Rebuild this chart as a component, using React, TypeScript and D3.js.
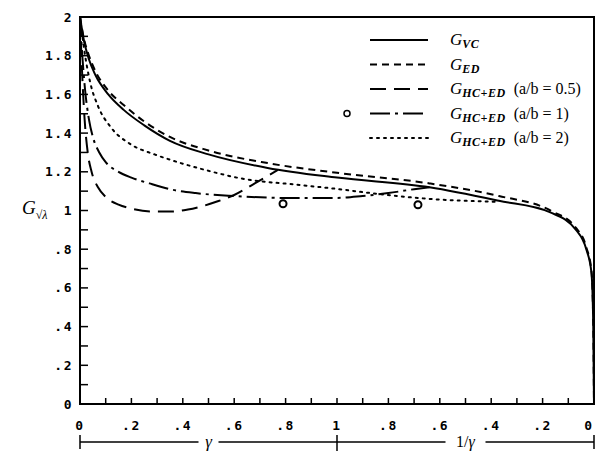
import * as d3 from 'd3';

// Abscissa runs 0..2: 0..1 is gamma, 1..2 is 1/gamma read backwards (2 - t)
const tVC = [0, 0.015, 0.035, 0.06, 0.11, 0.17, 0.25, 0.35, 0.5, 0.73, 1.0, 1.36, 1.63, 1.83, 1.93, 1.97, 1.99, 1.997, 2.0];
const gVC = [2.0, 1.88, 1.78, 1.70, 1.60, 1.52, 1.44, 1.36, 1.29, 1.22, 1.17, 1.12, 1.05, 0.99, 0.9, 0.8, 0.68, 0.42, 0];

const tED = [0, 0.015, 0.035, 0.06, 0.11, 0.17, 0.25, 0.35, 0.5, 0.73, 1.0, 1.36, 1.63, 1.83, 1.93, 1.97, 1.99, 1.997, 2.0];
const gED = [2.0, 1.89, 1.80, 1.72, 1.62, 1.545, 1.46, 1.38, 1.31, 1.245, 1.195, 1.14, 1.075, 1.0, 0.91, 0.81, 0.69, 0.43, 0];

const tHC05 = [0, 0.008, 0.018, 0.03, 0.045, 0.07, 0.1, 0.15, 0.2, 0.28, 0.36, 0.42, 0.47, 0.53, 0.6, 0.68, 0.77];
const gHC05 = [2.0, 1.72, 1.47, 1.3, 1.2, 1.12, 1.07, 1.03, 1.01, 0.995, 0.995, 1.005, 1.02, 1.045, 1.08, 1.14, 1.21];

const tHC1 = [0, 0.01, 0.02, 0.035, 0.05, 0.075, 0.1, 0.15, 0.2, 0.27, 0.35, 0.45, 0.6, 0.8, 1.0, 1.1, 1.2, 1.3, 1.36];
const gHC1 = [2.0, 1.78, 1.62, 1.47, 1.38, 1.3, 1.25, 1.2, 1.17, 1.14, 1.11, 1.09, 1.075, 1.065, 1.065, 1.075, 1.09, 1.11, 1.12];

const tHC2 = [0, 0.02, 0.04, 0.07, 0.12, 0.2, 0.29, 0.38, 0.5, 0.61, 0.87, 1.01, 1.1, 1.36, 1.62];
const gHC2 = [2.0, 1.8, 1.66, 1.54, 1.43, 1.34, 1.29, 1.25, 1.205, 1.17, 1.13, 1.11, 1.095, 1.06, 1.045];

// measured points (circles)
const tPts = [0.79, 1.315];
const gPts = [1.035, 1.03];

const legendSubs = ['VC', 'ED', 'HC+ED', 'HC+ED', 'HC+ED'];
const legendNotes = ['', '', '(a/b = 0.5)', '(a/b = 1)', '(a/b = 2)'];
const dashes = ['', '7,5', '16,8', '20,5,3,5', '2,5'];

const W = 596, H = 452;
const x = d3.scaleLinear().domain([0, 2]).range([80, 594]);
const y = d3.scaleLinear().domain([0, 2]).range([404, 17]);

const line = d3.line<[number, number]>()
  .x((d) => x(d[0]))
  .y((d) => y(d[1]))
  .curve(d3.curveMonotoneX);

const zip = (a: number[], b: number[]) => a.map((v, i) => [v, b[i]] as [number, number]);

const series = [zip(tVC, gVC), zip(tED, gED), zip(tHC05, gHC05), zip(tHC1, gHC1), zip(tHC2, gHC2)];

const tickFont = "'DejaVu Sans Mono', monospace";
const serif = "'Liberation Serif', 'DejaVu Serif', serif";

const fmt = (v: number) => {
  const r = Math.round(v * 10) / 10;
  if (r === 0) return '0';
  if (r === 1) return '1';
  if (r === 2) return '2';
  return d3.format('.1f')(r).replace(/^0/, '');
};

export default function App() {
  const minor = d3.range(0, 21).map((i) => i / 10);
  const major = d3.range(0, 11).map((i) => i / 5);
  const yb = 442;

  return (
    <svg width={W} height={H} style={{ position: 'absolute', left: 0, top: 0, background: '#fff' }}>
      {/* frame */}
      <rect x={x(0)} y={y(2)} width={x(2) - x(0)} height={y(0) - y(2)} fill="none" stroke="#000" strokeWidth={2} />

      {/* y ticks */}
      {minor.map((v) => (
        <line key={'yt' + v} x1={x(0)} x2={x(0) + 8} y1={y(v)} y2={y(v)} stroke="#000" strokeWidth={1.5} />
      ))}
      {major.map((v) => (
        <text key={'yl' + v} x={73} y={y(v)} dy="0.35em" textAnchor="end" fontFamily={tickFont} fontSize={13} fontWeight="bold" letterSpacing={1.5}>
          {fmt(v)}
        </text>
      ))}

      {/* x ticks */}
      {minor.map((v) => (
        <line key={'xt' + v} x1={x(v)} x2={x(v)} y1={y(0)} y2={y(0) - 6} stroke="#000" strokeWidth={1.5} />
      ))}
      {major.map((v) => (
        <text key={'xl' + v} x={Math.min(x(v), 589)} y={425} dy="0.35em" textAnchor="middle" fontFamily={tickFont} fontSize={13} fontWeight="bold" letterSpacing={1.5}>
          {fmt(v <= 1 ? v : 2 - v)}
        </text>
      ))}

      {/* curves */}
      {series.map((s, i) => (
        <path key={'s' + i} d={line(s) ?? ''} fill="none" stroke="#000" strokeWidth={2}
          strokeDasharray={dashes[i] || undefined} strokeLinecap={i === 4 ? 'round' : 'butt'} />
      ))}

      {/* points */}
      {tPts.map((t, i) => (
        <circle key={'p' + i} cx={x(t)} cy={y(gPts[i])} r={3.5} fill="none" stroke="#000" strokeWidth={2} />
      ))}

      {/* legend */}
      {legendSubs.map((sub, i) => {
        const ly = 40 + i * 24.5;
        return (
          <g key={'lg' + i}>
            <line x1={370} x2={428} y1={ly} y2={ly} stroke="#000" strokeWidth={2}
              strokeDasharray={dashes[i] || undefined} strokeLinecap={i === 4 ? 'round' : 'butt'} />
            <text x={450} y={ly + 5} fontFamily={serif} fontSize={17}>
              <tspan fontStyle="italic">G</tspan>
              <tspan fontStyle="italic" fontWeight="bold" fontSize={12} letterSpacing={0.5} dy={3}>{sub}</tspan>
              <tspan dy={-3} fontSize={16}>{legendNotes[i] ? '\u2002' + legendNotes[i] : ''}</tspan>
            </text>
          </g>
        );
      })}
      <circle cx={347} cy={40 + 3 * 24.5} r={3} fill="none" stroke="#000" strokeWidth={1.5} />

      {/* y axis title */}
      <text x={22} y={214} fontFamily={serif} fontSize={19} fontStyle="italic">
        G<tspan fontSize={12} dy={5}>{'\u221A\u03BB'}</tspan>
      </text>

      {/* bottom bracket */}
      <g stroke="#000" strokeWidth={1.5}>
        <line x1={x(0)} x2={x(0.5) - 10} y1={yb} y2={yb} />
        <line x1={x(0.5) + 10} x2={x(1.5) - 20} y1={yb} y2={yb} />
        <line x1={x(1.5) + 20} x2={x(2)} y1={yb} y2={yb} />
        <line x1={x(0)} x2={x(0)} y1={yb - 7} y2={yb + 7} />
        <line x1={x(2)} x2={x(2)} y1={yb - 7} y2={yb + 7} />
        <line x1={x(1)} x2={x(1)} y1={yb - 7} y2={yb + 9} />
      </g>
      <text x={x(0.5)} y={yb + 5} textAnchor="middle" fontFamily={serif} fontSize={17} fontStyle="italic">γ</text>
      <text x={x(1.5)} y={yb + 5} textAnchor="middle" fontFamily={serif} fontSize={16}>1/<tspan fontStyle="italic">γ</tspan></text>
    </svg>
  );
}
